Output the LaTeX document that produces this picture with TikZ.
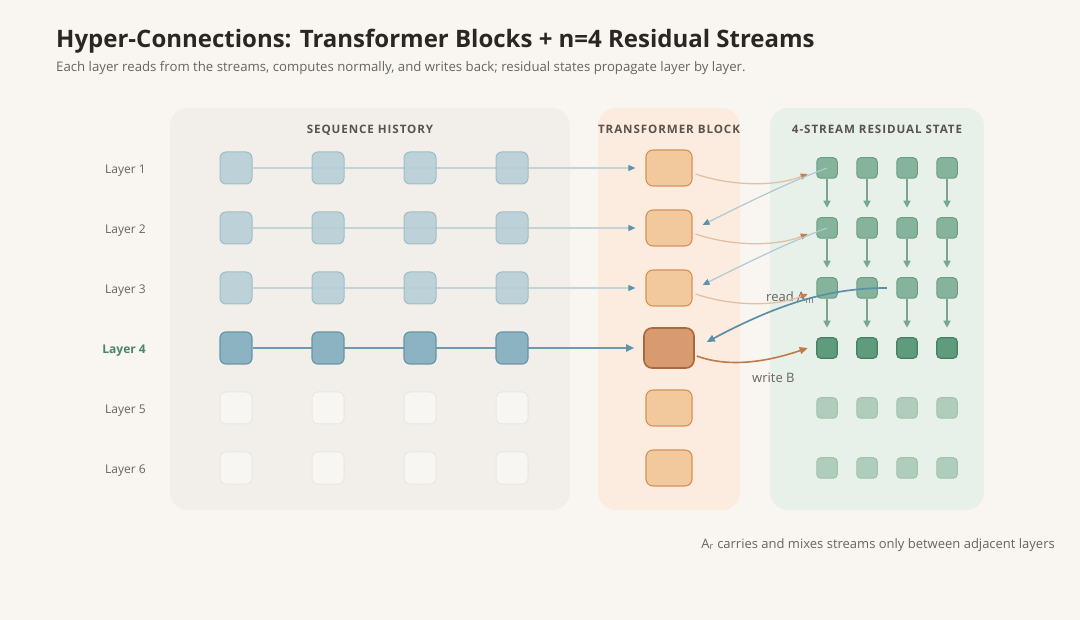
\documentclass[tikz,border=0pt]{standalone}
\usepackage{fontspec}
\setmainfont{Open Sans}
\newfontfamily\headfont[LetterSpace=8]{Open Sans}
\usetikzlibrary{arrows.meta}
\definecolor{bgc}{HTML}{F9F6F1}
\definecolor{panA}{HTML}{F2EFEA}
\definecolor{panB}{HTML}{FBECDF}
\definecolor{panC}{HTML}{E8F0EA}
\definecolor{titlec}{HTML}{2B2623}
\definecolor{subc}{HTML}{6B635C}
\definecolor{headc}{HTML}{5A524C}
\definecolor{greenlab}{HTML}{4A8566}
\definecolor{seqF}{HTML}{B4CDD6}
\definecolor{seqD}{HTML}{A0BCC6}
\definecolor{seqCF}{HTML}{8CB3C2}
\definecolor{seqCD}{HTML}{6A95A8}
\definecolor{seqEF}{HTML}{F8F6F2}
\definecolor{seqED}{HTML}{EAE6E0}
\definecolor{tF}{HTML}{F2C89D}
\definecolor{tD}{HTML}{D4915C}
\definecolor{tCF}{HTML}{D89A6F}
\definecolor{tCD}{HTML}{A9683E}
\definecolor{rF}{HTML}{86B39B}
\definecolor{rD}{HTML}{6B9D83}
\definecolor{rCF}{HTML}{5E9C7D}
\definecolor{rCD}{HTML}{477F63}
\definecolor{rEF}{HTML}{B0CDBC}
\definecolor{rED}{HTML}{A0C2AE}
\definecolor{hline}{HTML}{C3D4D9}
\definecolor{hhead}{HTML}{5E93AB}
\definecolor{hcur}{HTML}{6C9BAF}
\definecolor{vres}{HTML}{78A78D}
\definecolor{wrl}{HTML}{E3BFA3}
\definecolor{wrh}{HTML}{C57E4E}
\definecolor{wrc}{HTML}{C07A4A}
\definecolor{rdl}{HTML}{AFC8D2}
\definecolor{rdh}{HTML}{5E93AB}
\definecolor{rdc}{HTML}{5A8FA8}
\pgfdeclarelayer{back}
\pgfdeclarelayer{mid}
\pgfsetlayers{back,mid,main}
\begin{document}
\begin{tikzpicture}[x=1pt,y=-1pt,
  panel/.style={rounded corners=18pt},
  seqold/.style={draw=seqD,fill=seqF,fill opacity=0.85,line width=1pt,rounded corners=6pt,minimum width=32pt,minimum height=32pt,inner sep=0pt},
  seqcur/.style={draw=seqCD,fill=seqCF,line width=1.2pt,rounded corners=6pt,minimum width=32pt,minimum height=32pt,inner sep=0pt},
  seqempty/.style={draw=seqED,fill=seqEF,line width=1pt,rounded corners=6pt,minimum width=32pt,minimum height=32pt,inner sep=0pt},
  tblk/.style={draw=tD,fill=tF,line width=1.1pt,rounded corners=7pt,minimum width=46pt,minimum height=36pt,inner sep=0pt},
  tcur/.style={draw=tCD,fill=tCF,line width=1.6pt,rounded corners=8pt,minimum width=50pt,minimum height=40pt,inner sep=0pt},
  rold/.style={draw=rD,fill=rF,line width=1pt,rounded corners=4pt,minimum width=20.5pt,minimum height=20.5pt,inner sep=0pt},
  rcur/.style={draw=rCD,fill=rCF,line width=1.2pt,rounded corners=4pt,minimum width=20.5pt,minimum height=20.5pt,inner sep=0pt},
  rempty/.style={draw=rED,fill=rEF,line width=1pt,rounded corners=4pt,minimum width=20.5pt,minimum height=20.5pt,inner sep=0pt},
  headtext/.style={font=\headfont\bfseries\fontsize{11.6}{13}\selectfont,text=headc,anchor=base,inner sep=0pt},
  laylab/.style={font=\fontsize{12}{15}\selectfont,text=subc,anchor=base east,inner sep=0pt},
  hconn/.style={draw=hline,line width=1.3pt,-{Triangle[length=7pt,width=6pt,color=hhead]}},
  hconncur/.style={draw=hcur,line width=1.8pt,-{Triangle[length=8pt,width=7pt,color=hhead]}},
  vconn/.style={draw=vres,line width=1.5pt,-{Triangle[length=7pt,width=7pt,color=vres]}},
  wlight/.style={draw=wrl,line width=1.3pt,-{Triangle[length=7pt,width=6pt,color=wrh]}},
  wdark/.style={draw=wrc,line width=1.6pt,-{Triangle[length=8pt,width=7pt,color=wrc]}},
  rlight/.style={draw=rdl,line width=1.2pt,-{Triangle[length=7pt,width=6pt,color=rdh]}},
  rdark/.style={draw=rdc,line width=1.7pt,-{Triangle[length=8pt,width=7pt,color=rdc]}},
  lbl/.style={font=\fontsize{13}{15}\selectfont,text=subc,anchor=base west,inner sep=0pt}
]
\useasboundingbox (0,0) rectangle (1080,620);

% background and panels
\begin{pgfonlayer}{back}
\fill[bgc] (0,0) rectangle (1080,620);
\fill[panA,panel] (170,108) rectangle (570,510);
\fill[panB,panel] (598,108) rectangle (740,510);
\fill[panC,panel] (770,108) rectangle (984,510);
\end{pgfonlayer}

% title
\node[anchor=base west,inner sep=0pt,text=titlec,font=\bfseries\fontsize{24}{28}\selectfont] (title) at (56,48) {Hyper-Connections: Transformer Blocks + n=4 Residual Streams};
\node[anchor=base west,inner sep=0pt,text=subc,font=\fontsize{13.2}{15}\selectfont] (subtitle) at (56,72) {Each layer reads from the streams, computes normally, and writes back; residual states propagate layer by layer.};

% headings
\node[headtext] (h1) at (370,134) {SEQUENCE HISTORY};
\node[headtext] (h2) at (669,134) {TRANSFORMER BLOCK};
\node[headtext] (h3) at (877,134) {4-STREAM RESIDUAL STATE};

% layer labels
\node[laylab] (l1) at (146,174) {Layer 1};
\node[laylab] (l2) at (146,234) {Layer 2};
\node[laylab] (l3) at (146,294) {Layer 3};
\node[laylab,text=greenlab,font=\bfseries\fontsize{12}{15}\selectfont] (l4) at (146,354) {Layer 4};
\node[laylab] (l5) at (146,414) {Layer 5};
\node[laylab] (l6) at (146,474) {Layer 6};

% sequence history squares
\foreach \r/\y in {1/168,2/228,3/288}{
  \foreach \c in {1,2,3,4}{
    \node[seqold] (s\r\c) at ({236+92*(\c-1)},\y) {};
  }
}
\foreach \c in {1,2,3,4}{
  \node[seqcur] (s4\c) at ({236+92*(\c-1)},348) {};
}
\foreach \r/\y in {5/408,6/468}{
  \foreach \c in {1,2,3,4}{
    \node[seqempty] (s\r\c) at ({236+92*(\c-1)},\y) {};
  }
}

% transformer blocks
\node[tblk] (t1) at (669,168) {};
\node[tblk] (t2) at (669,228) {};
\node[tblk] (t3) at (669,288) {};
\node[tcur] (t4) at (669,348) {};
\node[tblk] (t5) at (669,408) {};
\node[tblk] (t6) at (669,468) {};

% residual state squares
\foreach \r/\y in {1/168,2/228,3/288}{
  \foreach \c in {1,2,3,4}{
    \node[rold] (r\r\c) at ({827+40*(\c-1)},\y) {};
  }
}
\foreach \c in {1,2,3,4}{
  \node[rcur] (r4\c) at ({827+40*(\c-1)},348) {};
}
\foreach \r/\y in {5/408,6/468}{
  \foreach \c in {1,2,3,4}{
    \node[rempty] (r\r\c) at ({827+40*(\c-1)},\y) {};
  }
}

% horizontal history connectors
\begin{pgfonlayer}{mid}
\foreach \r in {1,2,3}{
  \draw[hconn] (s\r1.east) -- ([xshift=-10pt]t\r.west);
}
\draw[hconncur] (s41.east) -- ([xshift=-9pt]t4.west);
\end{pgfonlayer}

% vertical residual propagation
\foreach \r/\n in {1/2,2/3,3/4}{
  \foreach \c in {1,2,3,4}{
    \draw[vconn] (r\r\c.south) -- ([yshift=9.5pt]r\n\c.north);
  }
}

% labels
\node[lbl] (readlab) at (766,301.5) {read A\textsubscript{m}};
\node[lbl] (writelab) at (752,383) {write B};

% write connectors (light)
\foreach \r in {1,2,3}{
  \draw[wlight] ([xshift=3pt,yshift=-6pt]t\r.east) .. controls +(35,12) and +(-33,13) .. ([xshift=-8.5pt,yshift=-6pt]r\r1.west);
}
% read connectors (light)
\draw[rlight] (r11.center) .. controls +(-38,14) and +(40,-20) .. ([xshift=10pt,yshift=3pt]t2.east);
\draw[rlight] (r21.center) .. controls +(-38,14) and +(40,-20) .. ([xshift=10pt,yshift=3pt]t3.east);

% current layer read/write
\draw[rdark] ([xshift=-9.5pt]r33.west) .. controls +(-55,0) and +(75,-40) .. ([xshift=12pt,yshift=6pt]t4.east);
\draw[wdark] ([xshift=2pt,yshift=-8pt]t4.east) .. controls +(35,13) and +(-35,12) .. ([xshift=-8.5pt]r41.west);

% bottom note
\node[anchor=base east,inner sep=0pt,text=subc,font=\fontsize{13}{15}\selectfont] (note) at (1055,548) {A\textsubscript{r} carries and mixes streams only between adjacent layers};
\end{tikzpicture}
\end{document}
